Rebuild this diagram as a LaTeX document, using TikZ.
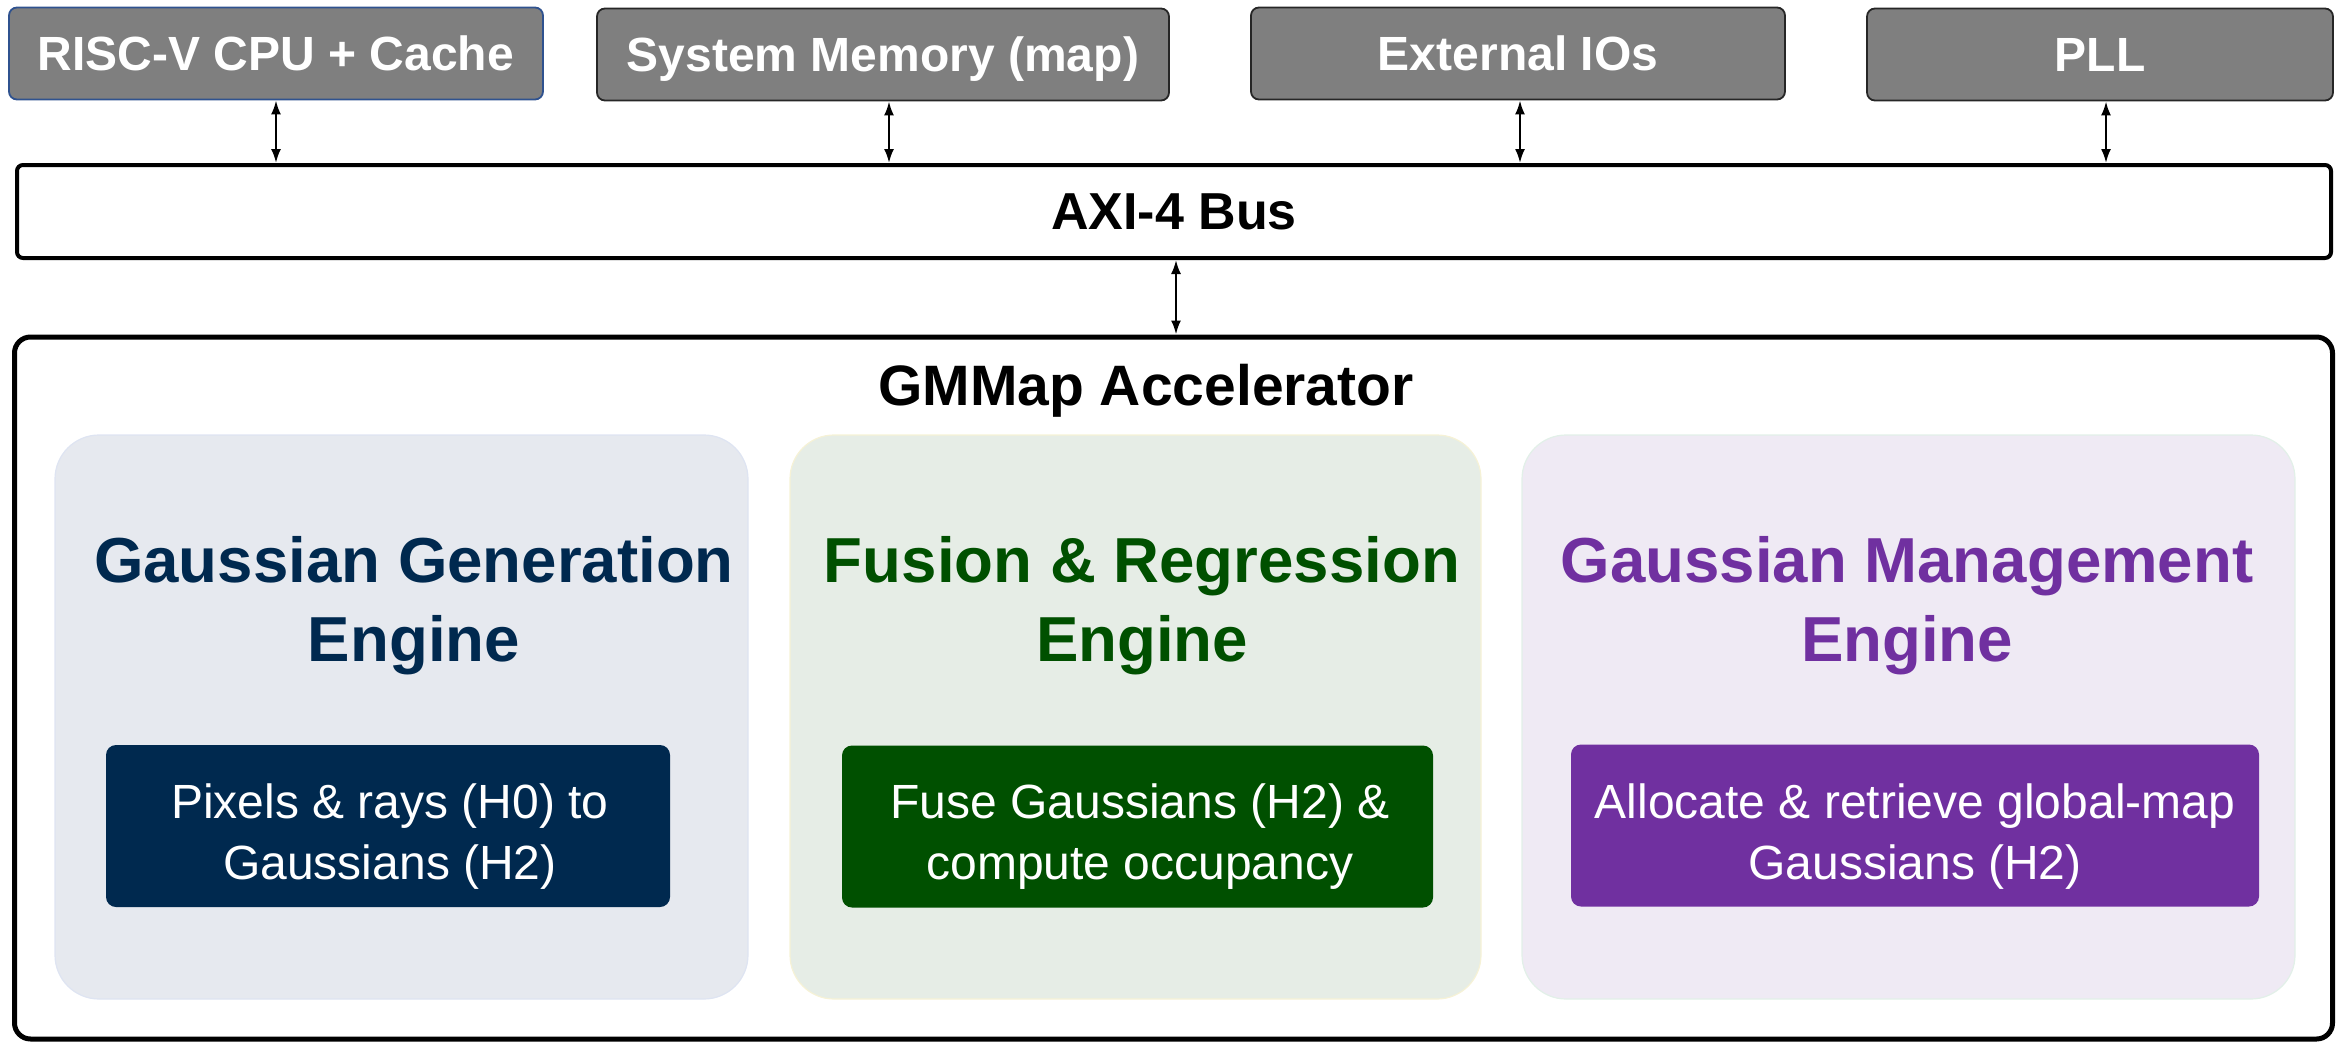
\documentclass[tikz,border=0pt]{standalone}
\usepackage{fontspec}
\setmainfont{Liberation Sans}
\usetikzlibrary{arrows.meta,calc}

\definecolor{topgray}{RGB}{127,127,127}
\definecolor{cpuedge}{RGB}{47,82,143}
\definecolor{navy}{RGB}{0,41,79}
\definecolor{leaf}{RGB}{0,80,0}
\definecolor{plum}{RGB}{112,48,160}
\definecolor{navybg}{RGB}{230,233,239}
\definecolor{leafbg}{RGB}{230,237,230}
\definecolor{plumbg}{RGB}{239,234,244}
\definecolor{navyrim}{RGB}{222,228,242}
\definecolor{leafrim}{RGB}{246,242,214}
\definecolor{plumrim}{RGB}{226,240,232}

\begin{document}
\begin{tikzpicture}[x=0.5pt,y=-0.5pt,
  ext/.style={draw=black!85, line width=0.9pt, fill=topgray, rounded corners=4pt,
    text=white, font=\fontsize{24}{28}\selectfont\bfseries, inner sep=0pt,
    minimum height=46pt, text height=17.2pt, text depth=0pt},
  bus/.style={draw=black, line width=2pt, rounded corners=3pt, fill=white,
    font=\fontsize{26}{30}\selectfont\bfseries, inner sep=0pt},
  accel/.style={draw=black, line width=2.5pt, rounded corners=8pt, inner sep=0pt},
  engine/.style={line width=0.6pt, rounded corners=22pt, inner sep=0pt, minimum height=282pt},
  enginetitle/.style={font=\fontsize{31.8}{39.5}\selectfont\bfseries, align=center, inner sep=0pt},
  task/.style={rounded corners=5pt, inner sep=0pt, minimum height=81pt},
  tasktext/.style={text=white, align=center, inner sep=0pt, font=\fontsize{24}{30.5}\selectfont},
  conn/.style={arrows={Latex[length=7pt,width=5pt]-Latex[length=7pt,width=5pt]}, line width=1.1pt}
]
\useasboundingbox (0,0) rectangle (2346,1044);

% system-level blocks
\node[ext, draw=cpuedge, minimum width=267pt] (cpu) at (276,53.5) {RISC-V CPU + Cache};
\node[ext, minimum width=286pt] (mem) at (883,54.5) {System Memory (map)};
\node[ext, minimum width=267pt] (io)  at (1518,53.5) {External IOs};
\node[ext, minimum width=233pt] (pll) at (2100,54.5) {PLL};

% shared bus
\node[bus, minimum width=1157pt, minimum height=46.5pt] (axi) at (1174,211.5) {AXI-4 Bus};

\draw[conn] (cpu.south) -- (cpu.south |- axi.north);
\draw[conn] ([xshift=3pt]mem.south) -- ([xshift=3pt]mem.south |- axi.north);
\draw[conn] ([xshift=1pt]io.south) -- ([xshift=1pt]io.south |- axi.north);
\draw[conn] ([xshift=3pt]pll.south) -- ([xshift=3pt]pll.south |- axi.north);

% accelerator
\node[accel, minimum width=1159pt, minimum height=351pt] (acc) at (1173.5,688) {};
\node[font=\fontsize{28.5}{34}\selectfont\bfseries, inner sep=0pt] (acct) at (1146,391) {GMMap Accelerator};
\draw[conn] ([xshift=1pt]axi.south) -- ([xshift=1pt]axi.south |- acc.north);

% engines
\node[engine, draw=navyrim, fill=navybg, minimum width=346.5pt] (gge) at (401.5,717) {};
\node[engine, draw=leafrim, fill=leafbg, minimum width=345.5pt] (fre) at (1135.5,717) {};
\node[engine, draw=plumrim, fill=plumbg, minimum width=386.5pt] (gme) at (1908.5,717) {};

\node[enginetitle, text=navy] (ggt) at (414,606) {Gaussian Generation\\Engine};
\node[enginetitle, text=leaf] (frt) at (1142,606) {Fusion \& Regression\\Engine};
\node[enginetitle, text=plum] (gmt) at (1907,606) {Gaussian Management\\Engine};

% engine tasks
\node[task, fill=navy, minimum width=282pt] (ggb) at (388,826) {};
\node[task, fill=leaf, minimum width=295.5pt] (frb) at (1137.5,826.5) {};
\node[task, fill=plum, minimum width=344pt] (gmb) at (1915,825.5) {};

\node[tasktext] (ggx) at (390,837) {Pixels \& rays (H0) to\\Gaussians (H2)};
\node[tasktext] (frx) at (1140,837) {Fuse Gaussians (H2) \&\\compute occupancy};
\node[tasktext] (gmx) at (1915,837) {Allocate \& retrieve global-map\\Gaussians (H2)};
\end{tikzpicture}
\end{document}
